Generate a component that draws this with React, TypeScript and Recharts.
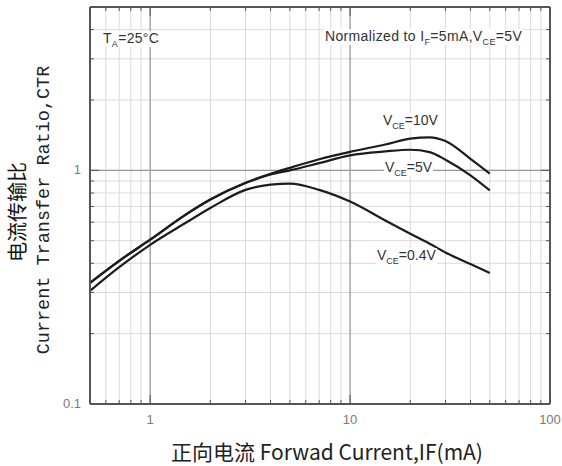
import React from "react";
import {
  LineChart, Line, XAxis, YAxis, CartesianGrid, ReferenceLine,
} from "recharts";

// Forward current IF (mA)
const currents = [0.5, 0.7, 1, 1.5, 2, 3, 4, 5, 7, 10, 15, 20, 25, 30, 40, 50];
// Normalized CTR for each collector-emitter voltage
const ctrVce10 = [0.33, 0.41, 0.505, 0.645, 0.75, 0.885, 0.966, 1.025, 1.115, 1.2, 1.29, 1.366, 1.385, 1.335, 1.12, 0.968];
const ctrVce5 = [0.33, 0.41, 0.505, 0.645, 0.75, 0.883, 0.96, 1.0, 1.074, 1.159, 1.205, 1.225, 1.197, 1.11, 0.952, 0.82];
const ctrVce04 = [0.305, 0.385, 0.48, 0.595, 0.69, 0.825, 0.868, 0.877, 0.825, 0.735, 0.61, 0.535, 0.485, 0.445, 0.397, 0.364];

const xTicks = [0.5, 0.6, 0.7, 0.8, 0.9, 1, 2, 3, 4, 5, 6, 7, 8, 9, 10, 20, 30, 40, 50, 60, 70, 80, 90, 100];
const yTicks = [0.1, 0.2, 0.3, 0.4, 0.5, 0.6, 0.7, 0.8, 0.9, 1, 2, 3, 4, 5];
const xLabeled = [1, 10, 100];
const yLabeled = [0.1, 1];

const data = currents.map((c, i) => ({
  c,
  v10: ctrVce10[i],
  v5: ctrVce5[i],
  v04: ctrVce04[i],
}));

const W = 562;
const H = 466;
const FRAME = "#555";
const TICK_LABEL = "#7a7a7a";
const SANS = "'Liberation Sans', Arial, sans-serif";

const isMajor = (v: number) => Math.abs(Math.log10(v) - Math.round(Math.log10(v))) < 1e-9;

// eslint-disable-next-line @typescript-eslint/no-explicit-any
const BottomTick = (p: any) => {
  const v = p.payload.value;
  return (
    <g>
      <line x1={p.x} x2={p.x} y1={p.y} y2={p.y - (isMajor(v) ? 9 : 4)} stroke={FRAME} strokeWidth={1} />
      {xLabeled.includes(v) && (
        <text x={p.x} y={p.y + 20} textAnchor="middle" fontSize={13} fill={TICK_LABEL} fontFamily={SANS}>
          {v}
        </text>
      )}
    </g>
  );
};

// eslint-disable-next-line @typescript-eslint/no-explicit-any
const TopTick = (p: any) => (
  <line x1={p.x} x2={p.x} y1={p.y} y2={p.y + (isMajor(p.payload.value) ? 9 : 4)} stroke={FRAME} strokeWidth={1} />
);

// eslint-disable-next-line @typescript-eslint/no-explicit-any
const LeftTick = (p: any) => {
  const v = p.payload.value;
  return (
    <g>
      <line x1={p.x} x2={p.x + (isMajor(v) ? 9 : 4)} y1={p.y} y2={p.y} stroke={FRAME} strokeWidth={1} />
      {yLabeled.includes(v) && (
        <text x={p.x - 9} y={p.y + 4} textAnchor="end" fontSize={13} fill={TICK_LABEL} fontFamily={SANS}>
          {v}
        </text>
      )}
    </g>
  );
};

// eslint-disable-next-line @typescript-eslint/no-explicit-any
const RightTick = (p: any) => (
  <line x1={p.x} x2={p.x - (isMajor(p.payload.value) ? 9 : 4)} y1={p.y} y2={p.y} stroke={FRAME} strokeWidth={1} />
);

const noteStyle: React.CSSProperties = {
  position: "absolute",
  fontFamily: SANS,
  fontSize: 14,
  lineHeight: "14px",
  color: "#333",
  background: "#fff",
  whiteSpace: "nowrap",
  padding: "0 1px",
};

const Sub = ({ children }: { children: React.ReactNode }) => (
  <span style={{ fontSize: 9, position: "relative", top: 4 }}>{children}</span>
);

export default function App() {
  return (
    <div style={{ position: "absolute", left: 0, top: 0, width: W, height: H, background: "#fff" }}>
      <LineChart width={W} height={H} data={data} margin={{ top: 0, right: 0, left: 0, bottom: 0 }}>
        <CartesianGrid stroke="#dadada" strokeWidth={1} />
        <XAxis
          dataKey="c"
          type="number"
          scale="log"
          domain={[0.5, 100]}
          ticks={xTicks}
          interval={0}
          allowDataOverflow
          height={62}
          tickSize={0}
          tickMargin={0}
          tickLine={false}
          tick={BottomTick}
          axisLine={{ stroke: FRAME, strokeWidth: 2 }}
        />
        <XAxis
          xAxisId="top"
          orientation="top"
          dataKey="c"
          type="number"
          scale="log"
          domain={[0.5, 100]}
          ticks={xTicks}
          interval={0}
          allowDataOverflow
          height={7}
          tickSize={0}
          tickMargin={0}
          tickLine={false}
          tick={TopTick}
          axisLine={{ stroke: FRAME, strokeWidth: 2 }}
        />
        <YAxis
          type="number"
          scale="log"
          domain={[0.1, 5]}
          ticks={yTicks}
          interval={0}
          allowDataOverflow
          width={90}
          tickSize={0}
          tickMargin={0}
          tickLine={false}
          tick={LeftTick}
          axisLine={{ stroke: FRAME, strokeWidth: 2 }}
        />
        <YAxis
          yAxisId="right"
          orientation="right"
          type="number"
          scale="log"
          domain={[0.1, 5]}
          ticks={yTicks}
          interval={0}
          allowDataOverflow
          width={12}
          tickSize={0}
          tickMargin={0}
          tickLine={false}
          tick={RightTick}
          axisLine={{ stroke: FRAME, strokeWidth: 2 }}
        />
        <ReferenceLine x={1} stroke="#9a9a9a" strokeWidth={1.2} />
        <ReferenceLine x={10} stroke="#9a9a9a" strokeWidth={1.2} />
        <ReferenceLine y={1} stroke="#9a9a9a" strokeWidth={1.2} />
        <Line type="monotone" dataKey="v10" stroke="#1c1c1c" strokeWidth={2.2} dot={false} isAnimationActive={false} />
        <Line type="monotone" dataKey="v5" stroke="#1c1c1c" strokeWidth={2.2} dot={false} isAnimationActive={false} />
        <Line type="monotone" dataKey="v04" stroke="#1c1c1c" strokeWidth={2.2} dot={false} isAnimationActive={false} />
      </LineChart>

      <div style={{ ...noteStyle, left: 102, top: 31, letterSpacing: 0.3 }}>
        T<Sub>A</Sub>=25°C
      </div>
      <div style={{ ...noteStyle, left: 324, top: 29, letterSpacing: 0.35 }}>
        Normalized to I<Sub>F</Sub>=5mA,V<Sub>CE</Sub>=5V
      </div>
      <div style={{ ...noteStyle, left: 382, top: 113 }}>
        V<Sub>CE</Sub>=10V
      </div>
      <div style={{ ...noteStyle, left: 384, top: 160 }}>
        V<Sub>CE</Sub>=5V
      </div>
      <div style={{ ...noteStyle, left: 376, top: 248 }}>
        V<Sub>CE</Sub>=0.4V
      </div>

      <div
        style={{
          position: "absolute", left: 17, top: 212, transform: "translate(-50%, -50%) rotate(-90deg)",
          whiteSpace: "nowrap", fontFamily: "'Noto Sans CJK SC', sans-serif", fontSize: 20, lineHeight: "22px", color: "#111",
        }}
      >
        电流传输比
      </div>
      <div
        style={{
          position: "absolute", left: 45, top: 210, transform: "translate(-50%, -50%) rotate(-90deg)",
          whiteSpace: "nowrap", fontFamily: "'Liberation Mono', monospace", fontSize: 18.5, lineHeight: "20px", color: "#222",
        }}
      >
        Current Transfer Ratio,CTR
      </div>
      <div
        style={{
          position: "absolute", left: 327, top: 451, transform: "translate(-50%, -50%)",
          whiteSpace: "nowrap", fontFamily: "'Noto Sans CJK SC', sans-serif", fontSize: 21, lineHeight: "24px", color: "#222",
        }}
      >
        正向电流 Forwad Current,IF(mA)
      </div>
    </div>
  );
}
